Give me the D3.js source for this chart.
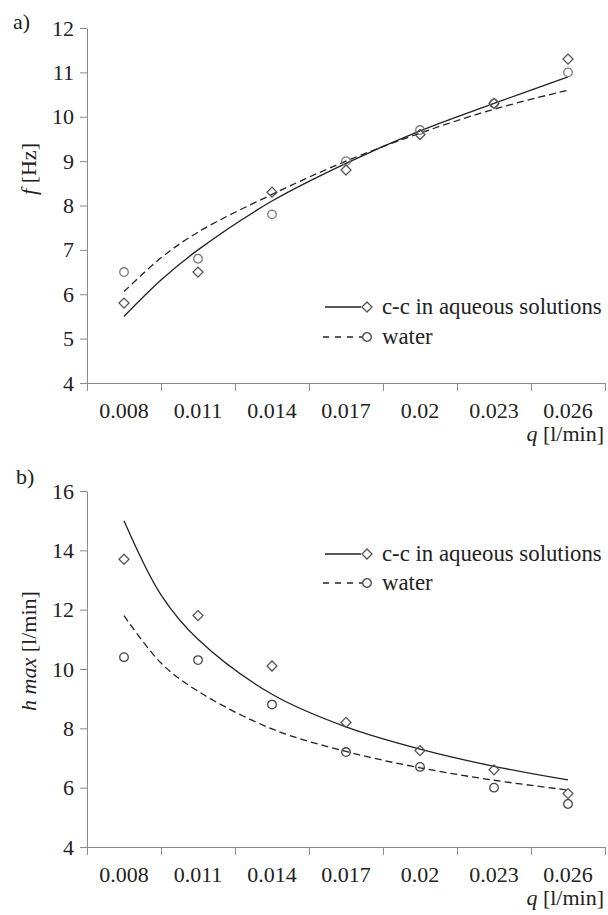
<!DOCTYPE html>
<html><head><meta charset="utf-8">
<script src="https://cdn.jsdelivr.net/npm/d3@7"></script>
<style>html,body{margin:0;padding:0;background:#fff;}svg{display:block;}</style>
</head><body>
<svg id="c" width="608" height="915" font-family="Liberation Serif"></svg>
<script>
// ---- data ----
const qLabels = ["0.008","0.011","0.014","0.017","0.02","0.023","0.026"];
const fCC    = [5.8, 6.5, 8.3, 8.8, 9.6, 10.3, 11.3];
const fWater = [6.5, 6.8, 7.8, 9.0, 9.7, 10.3, 11.0];
const hCC    = [13.7, 11.8, 10.1, 8.2, 7.25, 6.6, 5.8];
const hWater = [10.4, 10.3, 8.8, 7.2, 6.7, 6.0, 5.45];
// trend lines at category positions (1 = 0.008 ... 7 = 0.026)
const trendPos    = [1, 1.5, 2, 3, 4, 5, 6, 7];
const fTrendCC    = [5.5, 6.32, 7.0, 8.1, 8.95, 9.68, 10.3, 10.9];
const fTrendWater = [6.06, 6.82, 7.4, 8.25, 9.0, 9.63, 10.17, 10.6];
const hTrendCC    = [15.0, 12.5, 11.0, 9.15, 8.05, 7.3, 6.72, 6.26];
const hTrendWater = [11.8, 10.2, 9.25, 7.98, 7.22, 6.67, 6.25, 5.92];
const fTicks = [4,5,6,7,8,9,10,11,12];
const hTicks = [4,6,8,10,12,14,16];
const legendLabels = ["c-c in aqueous solutions", "water"];

const svg = d3.select("#c");
const FS = 22;
const FONT = "Liberation Serif";
const axisColor = "#8a8a8a";

const x = d3.scaleLinear().domain([0, 7]).range([87, 605]);

function txt(sel){ return sel.attr("font-family", FONT).attr("font-size", FS).attr("fill", "#222"); }

function panel(opt){
  const y = d3.scaleLinear().domain(opt.yDomain).range(opt.yRange);
  const g = svg.append("g");
  const y0 = opt.yRange[0];

  // y axis
  const ya = g.append("g").attr("transform", `translate(${x(0)},0)`)
    .call(d3.axisLeft(y).tickValues(opt.ticks).tickSize(7).tickSizeOuter(0).tickPadding(6));
  ya.attr("font-family", FONT).attr("font-size", FS);
  ya.select(".domain").attr("stroke", axisColor);
  ya.selectAll(".tick line").attr("stroke", axisColor);
  txt(ya.selectAll(".tick text"));

  // x axis
  const xa = g.append("g").attr("transform", `translate(0,${y0})`)
    .call(d3.axisBottom(x).tickValues(d3.range(0, 8)).tickFormat("").tickSize(8).tickSizeOuter(0));
  xa.select(".domain").attr("stroke", axisColor);
  xa.selectAll(".tick line").attr("stroke", axisColor);
  txt(g.selectAll(".xl").data(qLabels).join("text")
    .attr("x", (d,i) => x(i + 0.5)).attr("y", y0 + 35)
    .attr("text-anchor", "middle")).text(d => d);

  // x title
  const xt = txt(g.append("text").attr("x", 604).attr("y", y0 + 58).attr("text-anchor", "end"));
  xt.append("tspan").attr("font-style", "italic").text("q");
  xt.append("tspan").text(" [l/min]");

  // y title
  const yt = txt(g.append("text")
    .attr("transform", `translate(${opt.ytX},${opt.ytY}) rotate(-90)`)
    .attr("text-anchor", "middle"));
  yt.append("tspan").attr("font-style", "italic").text(opt.ytItalic);
  yt.append("tspan").text(opt.ytRest);

  // panel letter
  txt(g.append("text").attr("x", opt.letterX).attr("y", opt.letterY)).text(opt.letter);

  // trend lines
  const line = d3.line().x((d,i) => x(trendPos[i] - 0.5)).y(d => y(d)).curve(d3.curveCatmullRom.alpha(0.5));
  g.append("path").attr("d", line(opt.trendWater)).attr("fill", "none")
    .attr("stroke", "#222").attr("stroke-width", 1.3).attr("stroke-dasharray", "7,4");
  g.append("path").attr("d", line(opt.trendCC)).attr("fill", "none")
    .attr("stroke", "#222").attr("stroke-width", 1.3);

  // markers
  const dia = d3.symbol(d3.symbolSquare, 50);
  const cir = d3.symbol(d3.symbolCircle, 58);
  g.selectAll(".cw").data(opt.water).join("path")
    .attr("d", cir).attr("transform", (d,i) => `translate(${x(i+0.5)},${y(d)})`)
    .attr("fill", "none").attr("stroke", opt.circColor).attr("stroke-width", 1.3);
  g.selectAll(".dc").data(opt.cc).join("path")
    .attr("d", dia).attr("transform", (d,i) => `translate(${x(i+0.5)},${y(d)}) rotate(45)`)
    .attr("fill", "none").attr("stroke", "#555").attr("stroke-width", 1.3);

  // legend
  const ly = opt.legendY;
  g.append("line").attr("x1", 325).attr("x2", 361).attr("y1", ly[0]).attr("y2", ly[0])
    .attr("stroke", "#222").attr("stroke-width", 1.3);
  g.append("path").attr("d", dia).attr("transform", `translate(367,${ly[0]}) rotate(45)`)
    .attr("fill", "none").attr("stroke", "#555").attr("stroke-width", 1.3);
  g.append("line").attr("x1", 323).attr("x2", 362).attr("y1", ly[1]).attr("y2", ly[1])
    .attr("stroke", "#222").attr("stroke-width", 1.3).attr("stroke-dasharray", "6,6");
  g.append("path").attr("d", cir).attr("transform", `translate(367,${ly[1]})`)
    .attr("fill", "#fff").attr("stroke", "#444").attr("stroke-width", 1.3);
  txt(g.selectAll(".lt").data(legendLabels).join("text")
    .attr("x", 382).attr("y", (d,i) => ly[i] + 7)).attr("font-size", 22.8).text(d => d);
}

panel({
  yDomain: [4, 12], yRange: [383, 28], ticks: fTicks,
  cc: fCC, water: fWater, trendCC: fTrendCC, trendWater: fTrendWater,
  ytX: 36, ytY: 169, ytItalic: "f", ytRest: " [Hz]",
  letter: "a)", letterX: 13, letterY: 29,
  legendY: [307, 337], circColor: "#7a7a7a"
});
panel({
  yDomain: [4, 16], yRange: [847, 491], ticks: hTicks,
  cc: hCC, water: hWater, trendCC: hTrendCC, trendWater: hTrendWater,
  ytX: 36, ytY: 651, ytItalic: "h max", ytRest: " [l/min]",
  letter: "b)", letterX: 16, letterY: 484,
  legendY: [554, 583], circColor: "#444"
});
</script>
</body></html>
